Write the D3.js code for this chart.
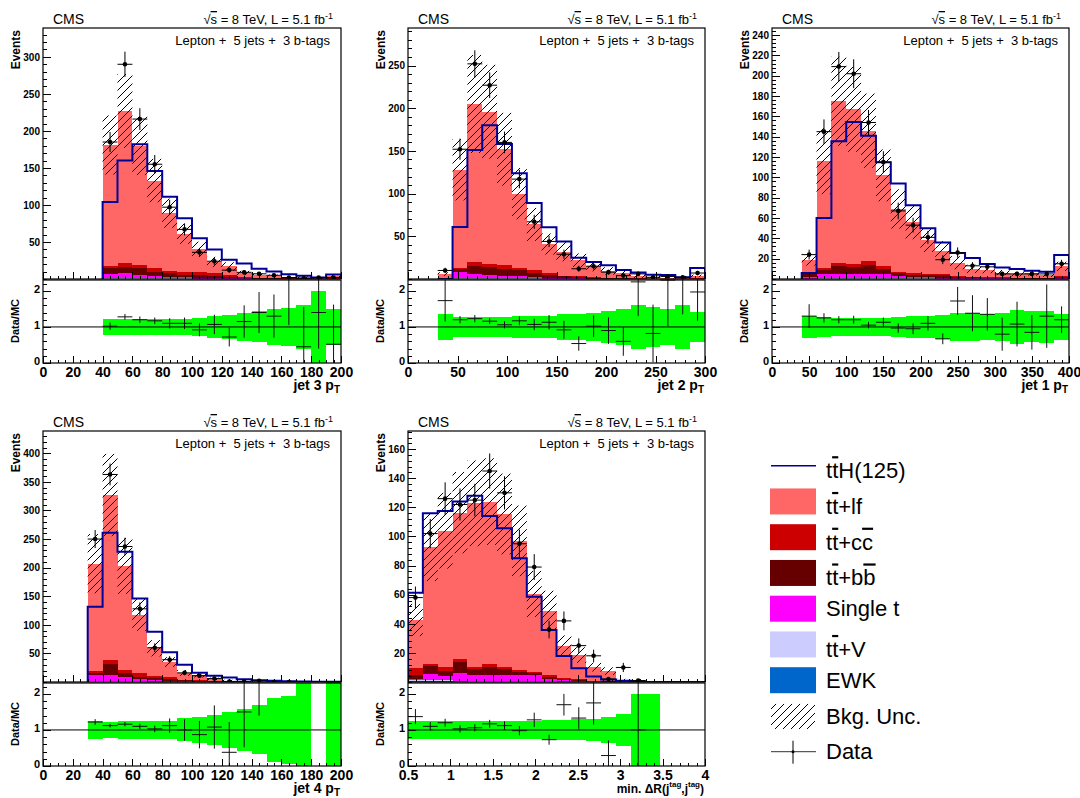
<!DOCTYPE html>
<html>
<head>
<meta charset="utf-8">
<script src="https://d3js.org/d3.v7.min.js"></script>
<style>
body { margin: 0; background: #fff; }
svg text { font-family: "Liberation Sans", Arial, Helvetica, sans-serif; }
</style>
</head>
<body>
<svg id="chart" width="1080" height="798"></svg>
<script>
// ---- data ----
// stack components per bin (bottom -> top): ewk, ttv, st, bb, cc, lf
// jet 3 pT : bins of 10 GeV from 40
var j3_lf  = [163.4, 206, 161, 118, 78, 51, 31, 15, 12, 5, 3, 2.5, 0.2, 1.5, 1.0, 3.0];
var j3_cc  = [2.6, 5, 4.5, 5, 3, 4, 4, 4, 2, 1, 0.5, 0.5, 0.3, 0.2, 0.1, 0.4];
var j3_bb  = [8, 7.5, 9, 6, 5, 3.5, 3, 2.5, 2, 1.3, 1, 0.7, 0.3, 0.3, 0.2, 0.4];
var j3_st  = [5.7, 7.0, 4.2, 3.0, 2.2, 1.8, 1.4, 1.0, 0.7, 0.4, 0.3, 0.1, 0.1, 0.1, 0.1, 0.1];
var j3_ttv = [1, 1.2, 1, 0.8, 0.6, 0.5, 0.4, 0.3, 0.2, 0.2, 0.1, 0.1, 0.1, 0.1, 0, 0.1];
var j3_ewk = [0.3, 0.3, 0.3, 0.2, 0.2, 0.2, 0.2, 0.2, 0.1, 0.1, 0.1, 0.1, 0, 0, 0, 0];
var j3_tth = [104, 160, 182, 146, 111, 82, 55, 40, 26, 21, 14, 10, 6.5, 4.5, 2, 6];
var j3_data = [185, 290, 216, 155, 97, 67, 36, 24, 12, 9, 7, 5, 2, 1, 2, 2];
var j3_unc = [0.22, 0.22, 0.22, 0.22, 0.22, 0.22, 0.26, 0.3, 0.33, 0.38, 0.43, 0.5, 0.53, 0.6, 1.0, 0.5];
var j3_ratio = [1.02, 1.28, 1.2, 1.17, 1.1, 1.1, 0.92, 1.07, 0.72, 1.15, 1.4, 1.3, 2.6, 0.45, 1.4, 0.52];
var j3_rerr = [0.1, 0.08, 0.09, 0.09, 0.14, 0.16, 0.18, 0.27, 0.26, 0.45, 0.57, 0.6, 1.55, 1.1, 1.0, 1.1];

// jet 2 pT : bins of 15 GeV from 30
var j2_lf  = [4.8, 115.5, 185, 179, 136, 87.5, 54, 34.5, 28, 19, 13, 8.1, 5.7, 2.4, 1.9, 1.2, 0.7, 2.8];
var j2_cc  = [0.3, 0.5, 5, 3, 4, 2.5, 3, 1.5, 1, 1, 0.5, 0.4, 0.3, 0.2, 0.2, 0.1, 0.1, 0.3];
var j2_bb  = [0.3, 4, 9, 9.5, 8, 7, 5, 3.5, 2, 1.3, 1, 0.6, 0.4, 0.2, 0.2, 0.1, 0.1, 0.2];
var j2_st  = [0.3, 6.9, 4.5, 3.0, 2.8, 2.0, 1.2, 1.0, 0.6, 0.4, 0.2, 0.3, 0.2, 0.1, 0.05, 0.05, 0.05, 0.2];
var j2_ttv = [0.1, 0.8, 1.2, 1.2, 1.0, 0.8, 0.6, 0.4, 0.3, 0.2, 0.2, 0.1, 0.1, 0.1, 0.05, 0.05, 0.05, 0.1];
var j2_ewk = [0, 0.3, 0.3, 0.3, 0.2, 0.2, 0.2, 0.1, 0.1, 0.1, 0.1, 0, 0, 0, 0, 0, 0, 0];
var j2_tth = [0, 61, 151, 180, 158, 124, 89, 60.5, 44, 25, 20, 16, 10.5, 7.5, 5, 4.7, 2, 13];
var j2_data = [10, 152, 252, 227, 160, 117, 67, 44, 29, 12, 15, 8, 4, 6, 2, 3, 2, 7];
var j2_unc = [0.36, 0.28, 0.28, 0.28, 0.28, 0.3, 0.3, 0.3, 0.35, 0.36, 0.4, 0.45, 0.5, 0.6, 0.55, 0.5, 0.6, 0.42];
var j2_ratio = [1.73, 1.2, 1.23, 1.16, 1.06, 1.17, 1.07, 1.13, 0.92, 0.54, 1.02, 0.9, 0.6, 2.25, 0.82, 2.3, 2.7, 1.97];
var j2_rerr = [0.58, 0.1, 0.1, 0.08, 0.1, 0.12, 0.16, 0.2, 0.25, 0.2, 0.3, 0.37, 0.4, 0.95, 0.8, 1.28, 1.35, 0.8];

// jet 1 pT : bins of 20 GeV from 40
var j1_lf  = [12, 105.5, 159, 152, 128, 89, 62, 50, 33, 23, 13, 8, 7, 4.8, 3.6, 4.9, 3.0, 10];
var j1_cc  = [2, 1.5, 3.5, 3.5, 4.3, 3, 1.5, 2, 1.5, 1.5, 1, 0.5, 0.7, 0.5, 0.3, 0.3, 0.3, 0.7];
var j1_bb  = [3, 4, 7.5, 7, 8.7, 5.5, 3, 2, 2, 2.2, 1, 0.8, 0.7, 0.5, 0.3, 0.3, 0.2, 1.0];
var j1_st  = [1.7, 4.1, 3.7, 3.1, 3.7, 3.3, 1.7, 1.3, 1.0, 0.9, 0.7, 0.4, 0.4, 0.35, 0.3, 0.3, 0.2, 0.4];
var j1_ttv = [0.2, 0.6, 0.9, 1.0, 1.0, 0.9, 0.6, 0.5, 0.4, 0.3, 0.2, 0.2, 0.15, 0.1, 0.1, 0.1, 0.1, 0.3];
var j1_ewk = [0.1, 0.3, 0.4, 0.4, 0.3, 0.3, 0.2, 0.2, 0.1, 0.1, 0.1, 0.1, 0.05, 0.05, 0, 0, 0, 0.1];
var j1_tth = [6, 60, 135.6, 154.6, 141, 115, 94, 72.5, 50, 36, 25.5, 20.6, 14.7, 11.4, 9.8, 8.2, 7.2, 23.5];
var j1_data = [24, 145, 209, 202, 154, 115, 67, 53, 41, 19, 26, 13, 12, 5, 5, 5, 5, 15];
var j1_unc = [0.3, 0.28, 0.25, 0.25, 0.25, 0.25, 0.28, 0.3, 0.3, 0.33, 0.4, 0.4, 0.37, 0.4, 0.46, 0.43, 0.45, 0.36];
var j1_ratio = [1.3, 1.25, 1.2, 1.2, 1.05, 1.13, 0.97, 0.95, 1.1, 0.67, 1.72, 1.38, 1.35, 0.8, 1.08, 0.85, 1.3, 1.2];
var j1_rerr = [0.33, 0.13, 0.1, 0.11, 0.09, 0.13, 0.13, 0.15, 0.2, 0.15, 0.39, 0.5, 0.45, 0.46, 0.62, 0.48, 0.88, 0.37];

// jet 4 pT : bins of 10 GeV from 30
var j4_lf  = [187, 289, 182, 103, 49, 27, 12, 9.6, 3.9, 1.8, 0.4, 0.4, 0.15, 0.15, 0.1, 0, 0.05];
var j4_cc  = [4, 7, 5, 6, 3, 3, 1, 1, 0.3, 0.2, 0.1, 0.1, 0.05, 0.05, 0, 0, 0.05];
var j4_bb  = [4, 19, 7, 4, 3.5, 2.5, 1.8, 1.2, 0.7, 0.3, 0.1, 0.1, 0.1, 0.1, 0.1, 0, 0];
var j4_st  = [10.7, 10.1, 7.7, 4.1, 3.0, 2.1, 1.0, 0.65, 0.45, 0.25, 0.1, 0.1, 0, 0, 0, 0, 0];
var j4_ttv = [1.0, 1.5, 1.0, 0.7, 0.4, 0.3, 0.15, 0.1, 0.05, 0.05, 0, 0, 0, 0, 0, 0, 0];
var j4_ewk = [0.3, 0.4, 0.3, 0.2, 0.1, 0.1, 0.05, 0.05, 0, 0, 0, 0, 0, 0, 0, 0, 0];
var j4_tth = [131.7, 261, 228, 146, 88, 52, 30, 16, 11, 8, 5, 3, 2, 1.5, 1, 0.5, 0.5];
var j4_data = [250, 363, 237, 128, 60, 39, 16, 11, 6, 1, 1, 2, 0, 0, null, null, null];
var j4_unc = [0.25, 0.22, 0.24, 0.24, 0.24, 0.24, 0.32, 0.37, 0.41, 0.5, 0.59, 0.68, 0.9, 0.95, 1.3, 0, 1.5];
var j4_ratio = [1.22, 1.12, 1.16, 1.1, 1.03, 1.12, 1.0, 0.87, 1.08, 0.38, 1.5, 2.6, null, null, null, null, null];
var j4_rerr = [0.08, 0.05, 0.06, 0.08, 0.09, 0.2, 0.3, 0.38, 0.6, 0.84, 0.98, 1.2, 0, 0, 0, 0, 0];

// min dR(jtag, jtag) : bins of 0.175 from 0.5
var dr_lf  = [33.2, 80.1, 94, 100.8, 112.3, 111.6, 105, 88.8, 53.8, 44.2, 22, 16.5, 9.3, 6.7, 1.3, 0.9, 0.28, 0, 0, 0];
var dr_cc  = [4.4, 1.4, 2.2, 1.6, 1.8, 1.9, 1.8, 1.4, 0.8, 1.3, 0.8, 0.5, 0.2, 0.2, 0.05, 0.02, 0.02, 0, 0, 0];
var dr_bb  = [3, 5.5, 3.8, 8, 3.9, 5.5, 3.7, 1.8, 1.5, 1.5, 0.9, 0.7, 0.4, 0.3, 0.05, 0.03, 0, 0, 0, 0];
var dr_st  = [0.7, 4.1, 2.9, 5.0, 3.9, 4.1, 4.2, 4.3, 3.9, 1.6, 1.0, 0.6, 0.3, 0.25, 0.1, 0.05, 0, 0, 0, 0];
var dr_ttv = [0.3, 0.6, 0.6, 0.6, 0.6, 0.6, 0.5, 0.5, 0.4, 0.3, 0.2, 0.1, 0.1, 0.05, 0, 0, 0, 0, 0, 0];
var dr_ewk = [1.0, 0.8, 0.5, 0.4, 0.3, 0.3, 0.3, 0.2, 0.2, 0.1, 0.1, 0.1, 0, 0, 0, 0, 0, 0, 0, 0];
var dr_tth = [61.4, 116, 117.5, 124, 128, 114, 105.6, 85, 58.6, 35.7, 17.9, 9.4, 3.7, 1.8, 0.8, 0.3, 0, 0, 0, 0];
var dr_data = [58, 102, 126, 122, 125, 145, 130, 95, 79, 36, 42, 25, 18, 2, 10, 1, null, null, null, null];
var dr_unc = [0.26, 0.25, 0.25, 0.24, 0.24, 0.24, 0.24, 0.25, 0.26, 0.28, 0.28, 0.29, 0.3, 0.35, 0.45, 1.0, 1.0, 0, 0, 0];
var dr_ratio = [1.37, 1.1, 1.2, 1.03, 1.06, 1.17, 1.12, 0.98, 1.28, 0.73, 1.7, 1.33, 1.75, 0.29, null, 1.0, null, null, null, null];
var dr_rerr = [0.21, 0.12, 0.11, 0.1, 0.1, 0.11, 0.12, 0.13, 0.2, 0.14, 0.3, 0.3, 0.6, 0.42, 0, 1.35, 0, 0, 0, 0];

var keys = ["ewk", "ttv", "st", "bb", "cc", "lf"];
var colors = {ewk: "#0066cc", ttv: "#ccccff", st: "#ff00ff", bb: "#660000", cc: "#cc0000", lf: "#ff6666"};

var panels = [
  {id: "j3", col: 0, row: 0, xDomain: [0, 200], start: 40, width: 10, yMax: 339, yStep: 50, yMinor: 10, xStep: 20, xMinor: 5, title: "jet 3 p",
   lf: j3_lf, cc: j3_cc, bb: j3_bb, st: j3_st, ttv: j3_ttv, ewk: j3_ewk, tth: j3_tth, data: j3_data, unc: j3_unc, ratio: j3_ratio, rerr: j3_rerr},
  {id: "j2", col: 1, row: 0, xDomain: [0, 300], start: 30, width: 15, yMax: 294, yStep: 50, yMinor: 10, xStep: 50, xMinor: 10, title: "jet 2 p",
   lf: j2_lf, cc: j2_cc, bb: j2_bb, st: j2_st, ttv: j2_ttv, ewk: j2_ewk, tth: j2_tth, data: j2_data, unc: j2_unc, ratio: j2_ratio, rerr: j2_rerr},
  {id: "j1", col: 2, row: 0, xDomain: [0, 400], start: 40, width: 20, yMax: 247, yStep: 20, yMinor: 4, xStep: 50, xMinor: 10, title: "jet 1 p",
   lf: j1_lf, cc: j1_cc, bb: j1_bb, st: j1_st, ttv: j1_ttv, ewk: j1_ewk, tth: j1_tth, data: j1_data, unc: j1_unc, ratio: j1_ratio, rerr: j1_rerr},
  {id: "j4", col: 0, row: 1, xDomain: [0, 200], start: 30, width: 10, yMax: 439, yStep: 50, yMinor: 10, xStep: 20, xMinor: 5, title: "jet 4 p",
   lf: j4_lf, cc: j4_cc, bb: j4_bb, st: j4_st, ttv: j4_ttv, ewk: j4_ewk, tth: j4_tth, data: j4_data, unc: j4_unc, ratio: j4_ratio, rerr: j4_rerr},
  {id: "dr", col: 1, row: 1, xDomain: [0.5, 4], start: 0.5, width: 0.175, yMax: 172.5, yStep: 20, yMinor: 4, xStep: 0.5, xMinor: 0.1, title: null,
   lf: dr_lf, cc: dr_cc, bb: dr_bb, st: dr_st, ttv: dr_ttv, ewk: dr_ewk, tth: dr_tth, data: dr_data, unc: dr_unc, ratio: dr_ratio, rerr: dr_rerr}
];

// ---- layout ----
var cols = [[43, 341], [408, 705], [772, 1069]];
var rowTops = [28, 431];
var mainH = 251, ratioH = 84, ratioMax = 2.33;

var svg = d3.select("#chart");
var defs = svg.append("defs");
var pat = defs.append("pattern").attr("id", "hatch")
  .attr("patternUnits", "userSpaceOnUse").attr("width", 8).attr("height", 8);
pat.append("path").attr("d", "M-2,2 L2,-2 M0,8 L8,0 M6,10 L10,6")
  .attr("stroke", "#000").attr("stroke-width", 1);

function rng(a, b, s) {
  var out = [];
  for (var k = 0; a + k * s <= b + 1e-9; k++) out.push(+(a + k * s).toFixed(4));
  return out;
}
var fmt = function(d) { return String(+d.toFixed(3)); };

function styleAxis(g, size) {
  g.attr("font-size", size).attr("font-family", "'Liberation Sans', Arial, sans-serif")
    .attr("font-weight", "bold");
  g.select(".domain").remove();
  g.selectAll("line").attr("shape-rendering", "crispEdges");
}

function drawPanel(p) {
  var x0 = cols[p.col][0], x1 = cols[p.col][1], top = rowTops[p.row];
  var mBot = top + mainH, rTop = mBot, rBot = rTop + ratioH;
  var x = d3.scaleLinear().domain(p.xDomain).range([x0, x1]);
  var y = d3.scaleLinear().domain([0, p.yMax]).range([mBot, top]);
  var yr = d3.scaleLinear().domain([0, ratioMax]).range([rBot, rTop]);
  var n = p.lf.length;
  var lo = function(i) { return p.start + i * p.width; };
  var hi = function(i) { return p.start + (i + 1) * p.width; };

  defs.append("clipPath").attr("id", "cm" + p.id).append("rect")
    .attr("x", x0).attr("y", top).attr("width", x1 - x0).attr("height", mainH);
  defs.append("clipPath").attr("id", "cr" + p.id).append("rect")
    .attr("x", x0).attr("y", rTop).attr("width", x1 - x0).attr("height", ratioH);

  var g = svg.append("g");
  var gm = g.append("g").attr("clip-path", "url(#cm" + p.id + ")");

  // stacked backgrounds
  var rows = d3.range(n).map(function(i) {
    var o = {}; keys.forEach(function(k) { o[k] = p[k][i]; }); return o;
  });
  var series = d3.stack().keys(keys)(rows);
  series.forEach(function(s) {
    gm.append("g").attr("fill", colors[s.key]).selectAll("rect")
      .data(s.map(function(d, i) { return {i: i, y0: d[0], y1: d[1]}; }).filter(function(d) { return d.y1 - d.y0 > 0; }))
      .join("rect")
      .attr("shape-rendering", "crispEdges")
      .attr("x", function(d) { return x(lo(d.i)); })
      .attr("width", function(d) { return x(hi(d.i)) - x(lo(d.i)); })
      .attr("y", function(d) { return y(d.y1); })
      .attr("height", function(d) { return y(d.y0) - y(d.y1); });
  });
  var totals = d3.range(n).map(function(i) { return d3.sum(keys, function(k) { return p[k][i]; }); });

  // background uncertainty (hatched)
  gm.append("g").selectAll("rect")
    .data(d3.range(n).filter(function(i) { return totals[i] > 0 && p.unc[i] > 0; }))
    .join("rect")
    .attr("fill", "url(#hatch)")
    .attr("x", function(i) { return x(lo(i)); })
    .attr("width", function(i) { return x(hi(i)) - x(lo(i)); })
    .attr("y", function(i) { return y(totals[i] * (1 + p.unc[i])); })
    .attr("height", function(i) { return y(Math.max(0, totals[i] * (1 - p.unc[i]))) - y(totals[i] * (1 + p.unc[i])); });

  // ttH step line
  var pts = [[lo(0), 0]];
  for (var i = 0; i < n; i++) { pts.push([lo(i), p.tth[i]]); pts.push([hi(i), p.tth[i]]); }
  pts.push([hi(n - 1), 0]);
  gm.append("path").datum(pts)
    .attr("d", d3.line().x(function(d) { return x(d[0]); }).y(function(d) { return y(d[1]); }))
    .attr("fill", "none").attr("stroke", "#000099").attr("stroke-width", 2);

  // data
  var dd = d3.range(n).filter(function(i) { return p.data[i] !== null; });
  var gd = gm.append("g").attr("stroke", "#000").attr("stroke-width", 1);
  gd.selectAll("line.h").data(dd).join("line").attr("class", "h")
    .attr("x1", function(i) { return x(lo(i)); }).attr("x2", function(i) { return x(hi(i)); })
    .attr("y1", function(i) { return y(p.data[i]); }).attr("y2", function(i) { return y(p.data[i]); });
  gd.selectAll("line.v").data(dd.filter(function(i) { return p.data[i] > 0; })).join("line").attr("class", "v")
    .attr("x1", function(i) { return x((lo(i) + hi(i)) / 2); }).attr("x2", function(i) { return x((lo(i) + hi(i)) / 2); })
    .attr("y1", function(i) { return y(p.data[i] - Math.sqrt(p.data[i])); })
    .attr("y2", function(i) { return y(p.data[i] + Math.sqrt(p.data[i])); });
  gm.append("g").selectAll("circle").data(dd).join("circle")
    .attr("cx", function(i) { return x((lo(i) + hi(i)) / 2); })
    .attr("cy", function(i) { return y(p.data[i]); })
    .attr("r", 2.3).attr("fill", "#000");

  // ratio panel
  var gr = g.append("g").attr("clip-path", "url(#cr" + p.id + ")");
  gr.append("g").attr("fill", "#00ff00").selectAll("rect")
    .data(d3.range(n).filter(function(i) { return p.unc[i] > 0; }))
    .join("rect")
    .attr("shape-rendering", "crispEdges")
    .attr("x", function(i) { return x(lo(i)); })
    .attr("width", function(i) { return x(hi(i)) - x(lo(i)); })
    .attr("y", function(i) { return yr(Math.min(ratioMax, 1 + p.unc[i])); })
    .attr("height", function(i) { return yr(Math.max(0, 1 - p.unc[i])) - yr(Math.min(ratioMax, 1 + p.unc[i])); });
  gr.append("line").attr("x1", x0).attr("x2", x1).attr("y1", yr(1)).attr("y2", yr(1))
    .attr("stroke", "#000").attr("stroke-width", 1);
  var rd = d3.range(n).filter(function(i) { return p.ratio[i] !== null; });
  var grp = gr.append("g").attr("stroke", "#111").attr("stroke-width", 1);
  grp.selectAll("line.h").data(rd).join("line").attr("class", "h")
    .attr("x1", function(i) { return x(lo(i)); }).attr("x2", function(i) { return x(hi(i)); })
    .attr("y1", function(i) { return yr(p.ratio[i]); }).attr("y2", function(i) { return yr(p.ratio[i]); });
  grp.selectAll("line.v").data(rd).join("line").attr("class", "v")
    .attr("x1", function(i) { return x((lo(i) + hi(i)) / 2); }).attr("x2", function(i) { return x((lo(i) + hi(i)) / 2); })
    .attr("y1", function(i) { return yr(Math.max(0, p.ratio[i] - p.rerr[i])); })
    .attr("y2", function(i) { return yr(p.ratio[i] + p.rerr[i]); });

  // frames
  g.append("rect").attr("x", x0).attr("y", top).attr("width", x1 - x0).attr("height", mainH)
    .attr("fill", "none").attr("stroke", "#000").attr("stroke-width", 1.2);
  g.append("rect").attr("x", x0).attr("y", rTop + 1).attr("width", x1 - x0).attr("height", ratioH - 1)
    .attr("fill", "none").attr("stroke", "#000").attr("stroke-width", 1.2);

  // axes: main y
  var yMajor = rng(p.yStep, p.yMax, p.yStep);
  g.append("g").attr("transform", "translate(" + x0 + ",0)")
    .call(d3.axisLeft(y).tickValues(rng(0, p.yMax, p.yMinor)).tickSize(-4).tickFormat(""))
    .call(function(a) { styleAxis(a, 10); });
  g.append("g").attr("transform", "translate(" + x0 + ",0)")
    .call(d3.axisLeft(y).tickValues(yMajor).tickSize(-8).tickPadding(3).tickFormat(fmt))
    .call(function(a) { styleAxis(a, 10); });
  // main x ticks (no labels)
  var xMajor = rng(p.xDomain[0], p.xDomain[1], p.xStep);
  var xMinor = rng(p.xDomain[0], p.xDomain[1], p.xMinor);
  g.append("g").attr("transform", "translate(0," + mBot + ")")
    .call(d3.axisBottom(x).tickValues(xMinor).tickSize(-3).tickFormat(""))
    .call(function(a) { styleAxis(a, 10); });
  g.append("g").attr("transform", "translate(0," + mBot + ")")
    .call(d3.axisBottom(x).tickValues(xMajor).tickSize(-7).tickFormat(""))
    .call(function(a) { styleAxis(a, 10); });
  // ratio y
  g.append("g").attr("transform", "translate(" + x0 + ",0)")
    .call(d3.axisLeft(yr).tickValues(rng(0, ratioMax, 0.2)).tickSize(-4).tickFormat(""))
    .call(function(a) { styleAxis(a, 11); });
  g.append("g").attr("transform", "translate(" + x0 + ",-2)")
    .call(d3.axisLeft(yr).tickValues([0, 1, 2]).tickSize(0).tickPadding(3).tickFormat(fmt))
    .call(function(a) { styleAxis(a, 11); });
  g.append("g").attr("transform", "translate(" + x0 + ",0)")
    .call(d3.axisLeft(yr).tickValues([0, 1, 2]).tickSize(-8).tickFormat(""))
    .call(function(a) { styleAxis(a, 11); });
  // ratio x
  g.append("g").attr("transform", "translate(0," + rBot + ")")
    .call(d3.axisBottom(x).tickValues(xMinor).tickSize(-3).tickFormat(""))
    .call(function(a) { styleAxis(a, 14); });
  g.append("g").attr("transform", "translate(0," + rBot + ")")
    .call(d3.axisBottom(x).tickValues(xMajor).tickSize(-7).tickPadding(4).tickFormat(fmt))
    .call(function(a) { styleAxis(a, 14); });

  // axis titles
  g.append("text").attr("transform", "translate(" + (x0 - 23) + "," + (top + 2) + ") rotate(-90)")
    .attr("text-anchor", "end").attr("font-size", 12).attr("font-weight", "bold").text("Events");
  g.append("text").attr("transform", "translate(" + (x0 - 24) + "," + (rTop + ratioH / 2) + ") rotate(-90)")
    .attr("text-anchor", "middle").attr("font-size", 11).attr("font-weight", "bold").text("Data/MC");
  var tt = g.append("text").attr("x", x1 - 1).attr("y", rBot + 27)
    .attr("text-anchor", "end").attr("font-size", 14).attr("font-weight", "bold");
  if (p.title) {
    tt.append("tspan").text(p.title);
    tt.append("tspan").attr("font-size", 10).attr("dy", 3).text("T");
  } else {
    tt.attr("font-size", 12);
    tt.append("tspan").text("min. \u0394R(j");
    tt.append("tspan").attr("font-size", 8).attr("dy", -6).text("tag");
    tt.append("tspan").attr("dy", 6).text(",j");
    tt.append("tspan").attr("font-size", 8).attr("dy", -6).text("tag");
    tt.append("tspan").attr("dy", 6).text(")");
  }

  // header texts
  g.append("text").attr("x", x0 + 10).attr("y", top - 4).attr("font-size", 14).text("CMS");
  var s = g.append("text").attr("x", x1 - 8).attr("y", top - 4).attr("font-size", 13).attr("text-anchor", "end");
  s.append("tspan").text("\u221A");
  s.append("tspan").attr("text-decoration", "overline").text("s");
  s.append("tspan").text(" = 8 TeV, L = 5.1 fb");
  s.append("tspan").attr("font-size", 9).attr("dy", -5).text("-1");
  g.append("text").attr("x", x1 - 11).attr("y", top + 17).attr("font-size", 13)
    .attr("text-anchor", "end").style("white-space", "pre").text("Lepton +  5 jets +  3 b-tags");
}

panels.forEach(drawPanel);

// ---- legend ----
var legItems = [
  {type: "line", parts: [["t"], ["t", 1], ["H(125)"]]},
  {type: "box", key: "lf", parts: [["t"], ["t", 1], ["+lf"]]},
  {type: "box", key: "cc", parts: [["t"], ["t", 1], ["+c"], ["c", 1]]},
  {type: "box", key: "bb", parts: [["t"], ["t", 1], ["+b"], ["b", 1]]},
  {type: "box", key: "st", parts: [["Single t"]]},
  {type: "box", key: "ttv", parts: [["t"], ["t", 1], ["+V"]]},
  {type: "box", key: "ewk", parts: [["EWK"]]},
  {type: "hatch", parts: [["Bkg. Unc."]]},
  {type: "data", parts: [["Data"]]}
];
var lg = svg.append("g");
legItems.forEach(function(it, k) {
  var cy = 465.7 + k * 35.75;
  var bx = 770, bw = 46, bh = 26;
  if (it.type === "line") {
    lg.append("line").attr("x1", bx + 1).attr("x2", bx + bw).attr("y1", cy).attr("y2", cy)
      .attr("stroke", "#000099").attr("stroke-width", 1.6);
  } else if (it.type === "box") {
    lg.append("rect").attr("x", bx).attr("y", cy - bh / 2).attr("width", bw).attr("height", bh)
      .attr("fill", colors[it.key]);
  } else if (it.type === "hatch") {
    lg.append("rect").attr("x", bx + 1).attr("y", cy - 12).attr("width", bw - 2).attr("height", 25)
      .attr("fill", "url(#hatch)");
  } else {
    lg.append("line").attr("x1", bx + 1).attr("x2", bx + bw).attr("y1", cy).attr("y2", cy)
      .attr("stroke", "#333").attr("stroke-width", 1);
    lg.append("line").attr("x1", bx + 23).attr("x2", bx + 23).attr("y1", cy - 11).attr("y2", cy + 12)
      .attr("stroke", "#000").attr("stroke-width", 1);
    lg.append("circle").attr("cx", bx + 23).attr("cy", cy).attr("r", 1.5).attr("fill", "#000");
  }
  var hasOver = it.parts.some(function(q) { return q[1]; });
  var t = lg.append("text").attr("x", 826).attr("y", cy + (hasOver ? 12.5 : 7.7)).attr("font-size", 22);
  it.parts.forEach(function(q) {
    var ts = t.append("tspan").text(q[0]);
    if (q[1]) ts.attr("text-decoration", "overline");
  });
});
</script>
</body>
</html>
